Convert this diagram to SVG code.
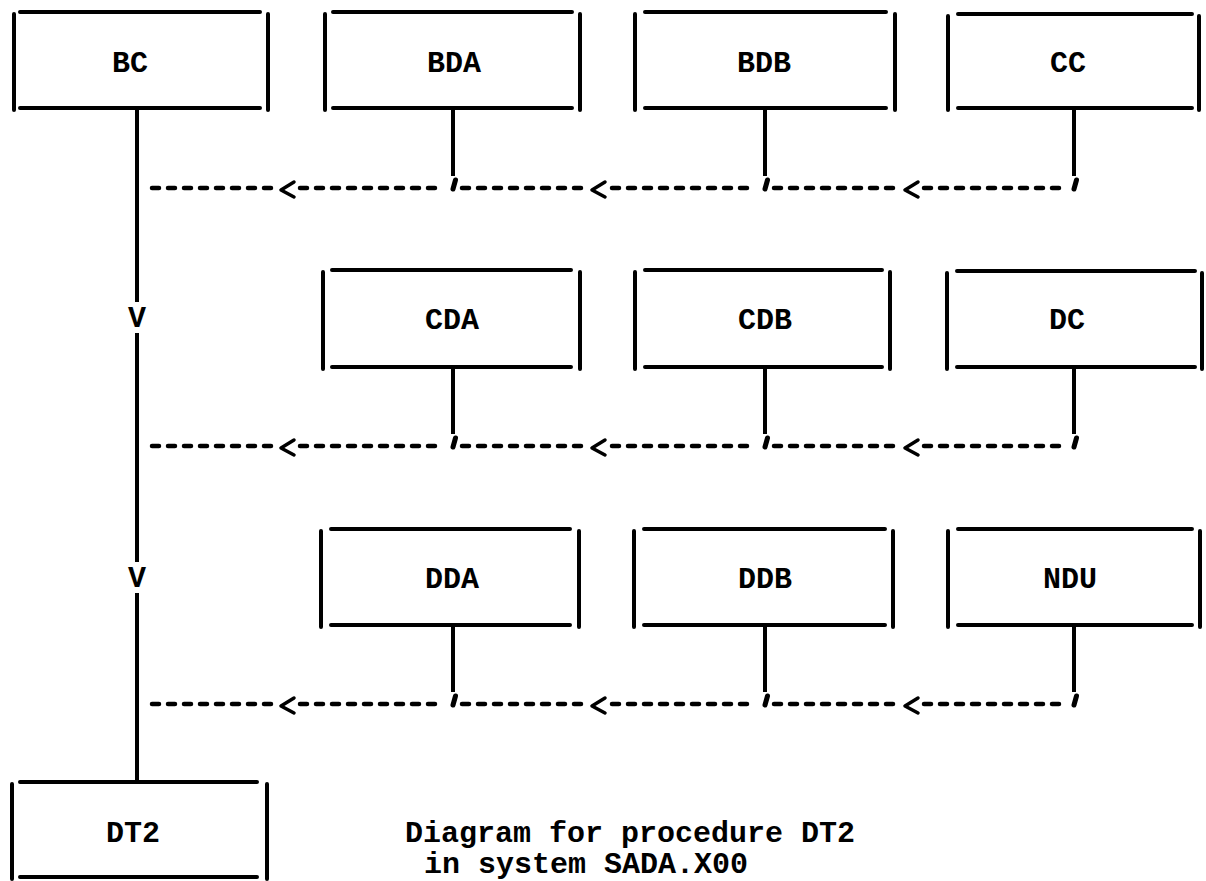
<svg xmlns="http://www.w3.org/2000/svg" xmlns:xlink="http://www.w3.org/1999/xlink" width="1206" height="881" viewBox="0 0 1206 881">
<style>
  .bg { fill: #ffffff; }
  .edge { stroke: #000; stroke-width: 4; stroke-linecap: round; fill: none; }
  .lbl { font-family: "Liberation Mono", "Courier New", monospace; font-weight: bold; font-size: 30px; fill: #000; text-anchor: middle; }
  .cap { font-family: "Liberation Mono", "Courier New", monospace; font-weight: bold; font-size: 30px; fill: #000; }
  .solid { stroke: #000; stroke-width: 4; fill: none; }
  .dash { stroke: #000; stroke-width: 4.5; stroke-linecap: round; stroke-dasharray: 7 9; fill: none; }
  .arrow { stroke: #000; stroke-width: 3.5; stroke-linecap: round; stroke-linejoin: round; fill: none; }
  .tick { stroke: #000; stroke-width: 5; stroke-linecap: round; fill: none; }
</style>
<defs>
  <path id="lt" class="arrow" d="M 13 -7 L 0 1 L 13 8"/>
  <path id="tk" class="tick" d="M 2.5 -9 L 0 0"/>
</defs>
<rect class="bg" x="0" y="0" width="1206" height="881"/>

<g id="node-BC">
  <path class="edge" d="M 20 12 H 260 M 20 108 H 260 M 14 14 V 110 M 268 14 V 110"/>
  <text class="lbl" x="130" y="72">BC</text>
</g>
<g id="node-BDA">
  <path class="edge" d="M 333 12 H 572 M 333 108 H 572 M 325 14 V 110 M 580 14 V 110"/>
  <text class="lbl" x="454" y="72">BDA</text>
</g>
<g id="node-BDB">
  <path class="edge" d="M 645 12 H 886 M 645 108 H 886 M 635 14 V 110 M 895 14 V 110"/>
  <text class="lbl" x="764" y="72">BDB</text>
</g>
<g id="node-CC">
  <path class="edge" d="M 958 14 H 1192 M 958 108 H 1192 M 948 16 V 110 M 1199 16 V 110"/>
  <text class="lbl" x="1068" y="72">CC</text>
</g>

<g id="node-CDA">
  <path class="edge" d="M 332 270 H 571 M 332 367 H 571 M 323 272 V 369 M 580 272 V 369"/>
  <text class="lbl" x="452" y="329">CDA</text>
</g>
<g id="node-CDB">
  <path class="edge" d="M 645 270 H 882 M 645 367 H 882 M 635 272 V 369 M 890 272 V 369"/>
  <text class="lbl" x="765" y="329">CDB</text>
</g>
<g id="node-DC">
  <path class="edge" d="M 957 271 H 1195 M 957 367 H 1195 M 947 273 V 369 M 1202 273 V 369"/>
  <text class="lbl" x="1067" y="329">DC</text>
</g>

<g id="node-DDA">
  <path class="edge" d="M 331 529 H 570 M 331 625 H 570 M 321 531 V 627 M 579 531 V 627"/>
  <text class="lbl" x="452" y="588">DDA</text>
</g>
<g id="node-DDB">
  <path class="edge" d="M 644 529 H 885 M 644 625 H 885 M 634 531 V 627 M 893 531 V 627"/>
  <text class="lbl" x="765" y="588">DDB</text>
</g>
<g id="node-NDU">
  <path class="edge" d="M 958 529 H 1192 M 958 625 H 1192 M 948 531 V 627 M 1200 531 V 627"/>
  <text class="lbl" x="1070" y="588">NDU</text>
</g>

<g id="node-DT2">
  <path class="edge" d="M 20 782 H 257 M 20 877 H 257 M 12 784 V 879 M 267 784 V 879"/>
  <text class="lbl" x="133" y="842">DT2</text>
</g>

<g id="connectors">
  <path class="solid" d="M 137 108 V 302 M 137 333 V 562 M 137 593 V 782"/>
  <text class="lbl" x="137" y="327">V</text>
  <text class="lbl" x="137" y="587">V</text>

  <path class="solid" d="M 453 108 V 176 M 765 108 V 176 M 1074 108 V 176"/>
  <path class="dash" d="M 152 188 H 276 M 300 188 H 444 M 462 188 H 588 M 612 188 H 756 M 774 188 H 900 M 924 188 H 1066"/>
  <use xlink:href="#lt" x="281" y="189"/>
  <use xlink:href="#lt" x="592" y="189"/>
  <use xlink:href="#lt" x="905" y="189"/>
  <use xlink:href="#tk" x="453" y="189"/>
  <use xlink:href="#tk" x="765" y="189"/>
  <use xlink:href="#tk" x="1074" y="189"/>

  <path class="solid" d="M 453 367 V 434 M 765 367 V 434 M 1074 367 V 434"/>
  <path class="dash" d="M 152 446 H 276 M 300 446 H 444 M 462 446 H 588 M 612 446 H 756 M 774 446 H 900 M 924 446 H 1066"/>
  <use xlink:href="#lt" x="281" y="447"/>
  <use xlink:href="#lt" x="592" y="447"/>
  <use xlink:href="#lt" x="905" y="447"/>
  <use xlink:href="#tk" x="453" y="447"/>
  <use xlink:href="#tk" x="765" y="447"/>
  <use xlink:href="#tk" x="1074" y="447"/>

  <path class="solid" d="M 453 625 V 692 M 765 625 V 692 M 1074 625 V 692"/>
  <path class="dash" d="M 152 704 H 276 M 300 704 H 444 M 462 704 H 588 M 612 704 H 756 M 774 704 H 900 M 924 704 H 1066"/>
  <use xlink:href="#lt" x="281" y="705"/>
  <use xlink:href="#lt" x="592" y="705"/>
  <use xlink:href="#lt" x="905" y="705"/>
  <use xlink:href="#tk" x="453" y="705"/>
  <use xlink:href="#tk" x="765" y="705"/>
  <use xlink:href="#tk" x="1074" y="705"/>
</g>

<g id="caption">
  <text class="cap" x="405" y="842">Diagram for procedure DT2</text>
  <text class="cap" x="424" y="873">in system SADA.X00</text>
</g>
</svg>
